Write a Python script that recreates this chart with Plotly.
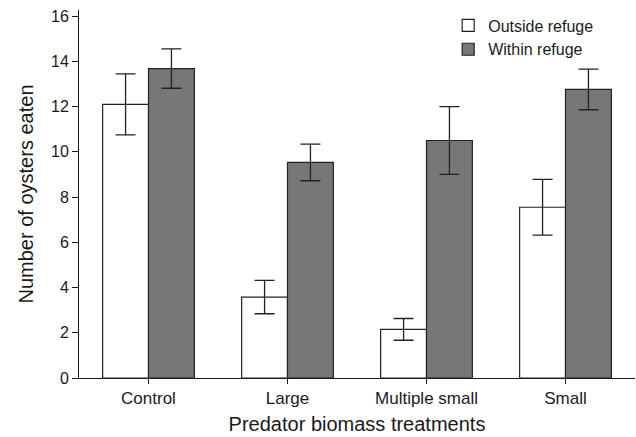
import plotly.graph_objects as go

categories = ["Control", "Large", "Multiple small", "Small"]
outside_vals = [12.1, 3.58, 2.15, 7.55]
outside_err = [1.35, 0.74, 0.48, 1.23]
within_vals = [13.68, 9.53, 10.5, 12.76]
within_err = [0.87, 0.81, 1.5, 0.9]
y_ticks = [0, 2, 4, 6, 8, 10, 12, 14, 16]

FONT = "Liberation Sans, Arial, sans-serif"
INK = "#1a1a1a"

fig = go.Figure()
fig.add_trace(go.Bar(
    name="Outside refuge", x=categories, y=outside_vals,
    marker=dict(color="white", line=dict(color="#222222", width=1.2)),
    error_y=dict(type="data", array=outside_err, visible=True,
                 color="#222222", thickness=1.3, width=10),
))
fig.add_trace(go.Bar(
    name="Within refuge", x=categories, y=within_vals,
    marker=dict(color="#777777", line=dict(color="#222222", width=1.2)),
    error_y=dict(type="data", array=within_err, visible=True,
                 color="#222222", thickness=1.3, width=10),
))

fig.update_layout(
    width=636, height=437,
    margin=dict(l=79, r=1, t=10, b=59),
    paper_bgcolor="white", plot_bgcolor="white",
    barmode="group", bargap=0.34, bargroupgap=0,
    font=dict(family=FONT, color=INK, size=16),
    showlegend=True,
    legend=dict(x=0.664, y=1.004, xanchor="left", yanchor="top",
                bgcolor="rgba(0,0,0,0)", font=dict(size=16, family=FONT, color=INK),
                tracegroupgap=0, itemwidth=30),
    xaxis=dict(
        range=[-0.5, 3.5], showline=True, linecolor=INK, linewidth=1,
        ticks="outside", ticklen=5, tickcolor=INK, tickwidth=1,
        tickfont=dict(size=17, family=FONT, color=INK),
        title=dict(text="Predator biomass treatments", font=dict(size=20, family=FONT, color=INK), standoff=9),
        showgrid=False, zeroline=False,
    ),
    yaxis=dict(
        range=[0, 16.27], showline=True, linecolor=INK, linewidth=1,
        ticks="outside", ticklen=6, tickcolor=INK, tickwidth=1,
        tickvals=y_ticks, ticktext=[str(v) for v in y_ticks],
        tickfont=dict(size=16, family=FONT, color=INK),
        title=dict(text="Number of oysters eaten", font=dict(size=20, family=FONT, color=INK), standoff=12),
        showgrid=False, zeroline=False,
    ),
)

fig.write_html("out.html")
